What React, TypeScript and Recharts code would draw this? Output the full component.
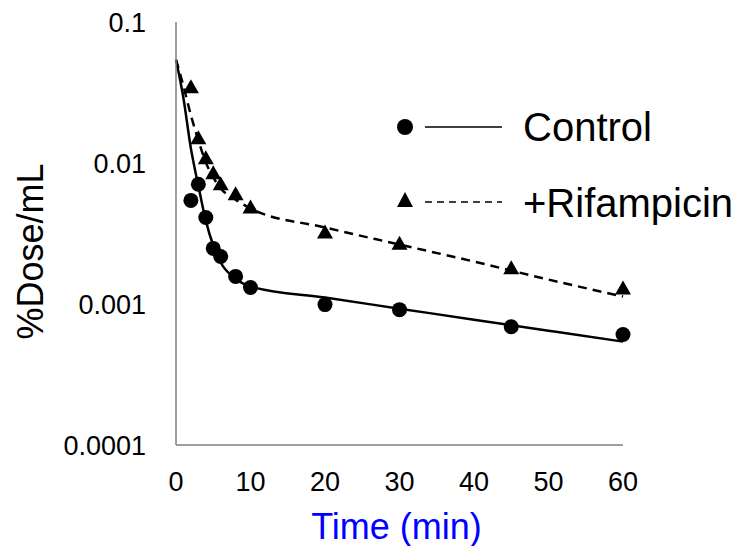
import React from 'react';
import {
    ComposedChart,
    Line,
    Scatter,
    XAxis,
    YAxis,
    Label,
} from 'recharts';

// observed points
const obsTimes = [2, 3, 4, 5, 6, 8, 10, 20, 30, 45, 60];
const controlObs = [0.00543, 0.00706, 0.00411, 0.00248, 0.00217, 0.00157, 0.00131, 0.00099, 0.000912, 0.00069, 0.000607];
const rifObs = [0.0345, 0.015, 0.0108, 0.00845, 0.00706, 0.006, 0.00484, 0.00322, 0.00268, 0.00179, 0.00129];

// fitted curves
const fitTimes = [0, 1, 2, 3, 4, 5, 6, 8, 10, 20, 30, 40, 50, 60];
const controlFit = [0.054, 0.0288, 0.0127, 0.0069, 0.0039, 0.0026, 0.00197, 0.00151, 0.00133, 0.00111, 0.000927, 0.000774, 0.000647, 0.000541];
const rifFit = [0.054, 0.0351, 0.0218, 0.0145, 0.0101, 0.0079, 0.0066, 0.0055, 0.00476, 0.00349, 0.00264, 0.002, 0.00149, 0.00113];

const xTicks = [0, 10, 20, 30, 40, 50, 60];
const yTicks = [0.0001, 0.001, 0.01, 0.1];

const FONT = '"Liberation Sans", Arial, sans-serif';

const fitData = fitTimes.map((t, i) => ({ t, control: controlFit[i], rif: rifFit[i] }));
const controlPoints = obsTimes.map((t, i) => ({ t, v: controlObs[i] }));
const rifPoints = obsTimes.map((t, i) => ({ t, v: rifObs[i] }));

const Dot = (p: any) => <circle cx={p.cx} cy={p.cy} r={7.5} fill="#000" />;
const Tri = (p: any) => (
    <polygon
        points={`${p.cx},${p.cy - 8} ${p.cx - 8},${p.cy + 6} ${p.cx + 8},${p.cy + 6}`}
        fill="#000"
    />
);

function LegendBox() {
    return (
        <svg width={357} height={140} style={{ position: 'absolute', left: 390, top: 90, fontFamily: FONT }}>
            <circle cx={15} cy={37} r={8} fill="#000" />
            <line x1={35} x2={112} y1={37} y2={37} stroke="#000" strokeWidth={1.5} />
            <text x={133} y={37} dy="0.36em" fontSize={40} fill="#000">Control</text>
            <polygon points="15,102 7,117 23,117" fill="#000" />
            <line x1={35} x2={112} y1={112} y2={112} stroke="#000" strokeWidth={1.5} strokeDasharray="7 5" />
            <text x={133} y={113} dy="0.36em" fontSize={40} fill="#000">+Rifampicin</text>
        </svg>
    );
}

export default function App() {
    return (
        <div style={{ position: 'fixed', left: 0, top: 0, width: 747, height: 546, background: '#fff' }}>
            <ComposedChart
                width={747}
                height={546}
                data={fitData}
                margin={{ top: 22, right: 124, bottom: 0, left: 0 }}
            >
                <XAxis
                    dataKey="t"
                    type="number"
                    domain={[0, 60]}
                    ticks={xTicks}
                    height={101}
                    tickLine={false}
                    tickSize={0}
                    tickMargin={27}
                    axisLine={{ stroke: '#7f7f7f', strokeWidth: 1.5 }}
                    tick={{ fill: '#000', fontSize: 27, fontFamily: FONT }}
                >
                    <Label
                        value="Time (min)"
                        position="insideTop"
                        offset={68}
                        dx={-3}
                        style={{ fill: '#0000ff', fontSize: 36, fontFamily: FONT }}
                    />
                </XAxis>
                <YAxis
                    type="number"
                    scale="log"
                    domain={[0.0001, 0.1]}
                    ticks={yTicks}
                    allowDataOverflow
                    width={176}
                    tickLine={false}
                    tickSize={0}
                    tickMargin={30}
                    axisLine={{ stroke: '#7f7f7f', strokeWidth: 1.5 }}
                    tick={{ fill: '#000', fontSize: 27, fontFamily: FONT }}
                >
                    <Label
                        value="%Dose/mL"
                        angle={-90}
                        position="insideLeft"
                        offset={30}
                        dy={18}
                        style={{ fill: '#000', fontSize: 36, fontFamily: FONT, textAnchor: 'middle' }}
                    />
                </YAxis>
                <Line
                    type="monotone"
                    dataKey="control"
                    stroke="#000"
                    strokeWidth={2.5}
                    dot={false}
                    isAnimationActive={false}
                />
                <Line
                    type="monotone"
                    dataKey="rif"
                    stroke="#000"
                    strokeWidth={2.5}
                    strokeDasharray="9 6"
                    dot={false}
                    isAnimationActive={false}
                />
                <Scatter data={controlPoints} dataKey="v" shape={Dot} isAnimationActive={false} />
                <Scatter data={rifPoints} dataKey="v" shape={Tri} isAnimationActive={false} />
            </ComposedChart>
            <LegendBox />
        </div>
    );
}
